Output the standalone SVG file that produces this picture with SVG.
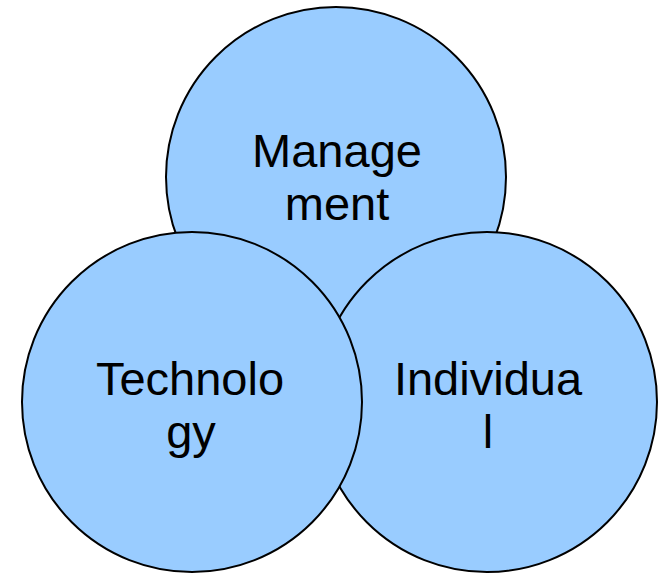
<svg xmlns="http://www.w3.org/2000/svg" width="658" height="574" viewBox="0 0 658 574">
<style>
.c{fill:#99CCFF;stroke:#000;stroke-width:2}
.t{font-family:"Liberation Sans",Arial,sans-serif;font-size:47px;fill:#000;text-anchor:middle}
</style>
<rect width="658" height="574" fill="#fff"/>
<g id="management">
<circle class="c" cx="336" cy="177" r="170"/>
<text class="t" x="337" y="167">Manage</text>
<text class="t" x="337" y="220">ment</text>
</g>
<g id="individual">
<circle class="c" cx="487" cy="402" r="170"/>
<text class="t" x="488" y="395">Individua</text>
<text class="t" x="488" y="448">l</text>
</g>
<g id="technology">
<circle class="c" cx="192" cy="402" r="170"/>
<text class="t" x="190" y="395">Technolo</text>
<text class="t" x="191" y="448">gy</text>
</g>
<g id="connectors"></g>
</svg>
